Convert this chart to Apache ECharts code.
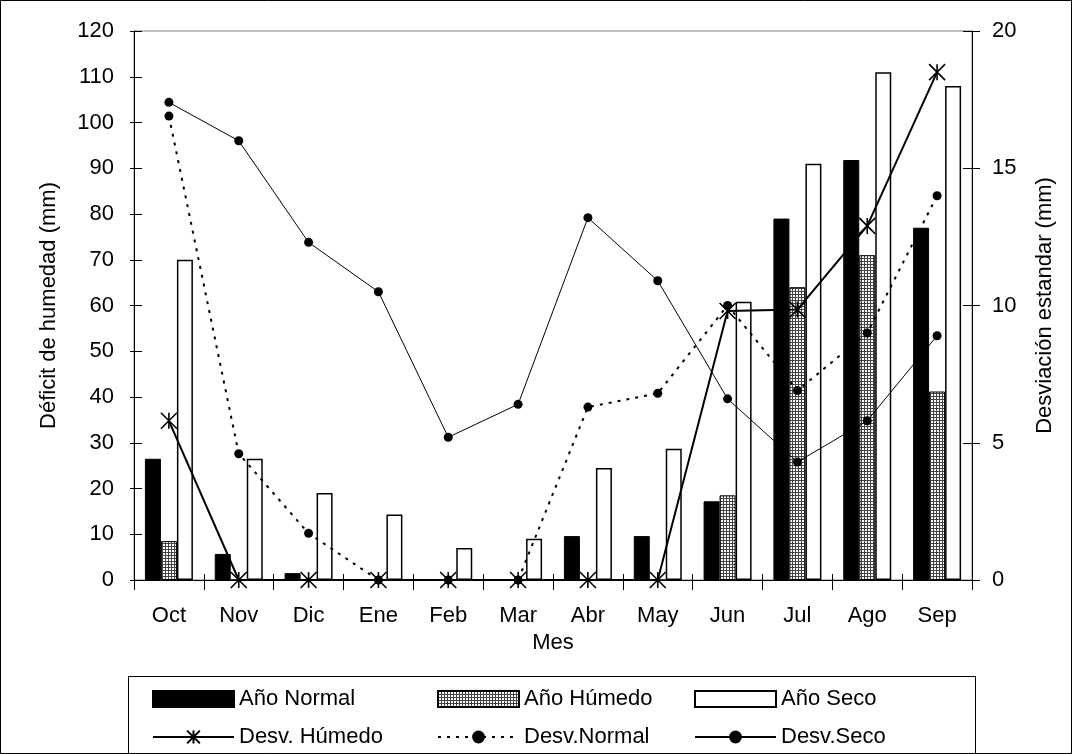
<!DOCTYPE html>
<html><head><meta charset="utf-8">
<script src="https://cdn.jsdelivr.net/npm/echarts@6/dist/echarts.min.js"></script>
<style>html,body{margin:0;padding:0;background:#fff}#c{width:1072px;height:754px}</style>
</head><body><div id="c"></div>
<script>
var months = ['Oct','Nov','Dic','Ene','Feb','Mar','Abr','May','Jun','Jul','Ago','Sep'];
var anoNormal = [26.5, 5.7, 1.5, 0, 0, 0, 9.6, 9.6, 17.2, 79, 91.8, 77];
var anoHumedo = [8.5, 0, 0, 0, 0, 0, 0, 0, 18.5, 64, 71, 41.2];
var anoSeco = [70, 26.5, 19, 14.3, 7, 9, 24.5, 28.7, 60.8, 91, 111, 108];
var desvHumedo = [5.8, 0, 0, 0, 0, 0, 0, 0, 9.8, 9.85, 12.9, 18.5];
var desvNormal = [16.9, 4.6, 1.7, 0, 0, 0, 6.3, 6.8, 10.0, 6.9, 9.0, 14.0];
var desvSeco = [17.4, 16.0, 12.3, 10.5, 5.2, 6.4, 13.2, 10.9, 6.6, 4.3, 5.8, 8.9];

var cv = document.createElement('canvas');
cv.width = 3; cv.height = 3;
var cx = cv.getContext('2d');
cx.fillStyle = '#fff'; cx.fillRect(0,0,3,3);
cx.fillStyle = '#444'; cx.fillRect(0,0,3,1); cx.fillRect(0,0,1,3);
var hatch = {image: cv, repeat: 'repeat'};

var FONT = 'Liberation Sans, Arial, sans-serif';
var FS = 22;
var chart = echarts.init(document.getElementById('c'), null, {renderer: 'canvas'});
var star = 'path://M0,0L20,20M20,0L0,20M10,0L10,20';
function lg(name, left, top, icon) {
  var o = {data: [name], left: left, top: top, itemWidth: 81, itemHeight: 16, itemGap: 0, padding: 0,
    textStyle: {fontFamily: FONT, fontSize: FS, color: '#000'}, selectedMode: false};
  if (icon) o.icon = icon;
  return o;
}
chart.setOption({
  animation: false,
  textStyle: {fontFamily: FONT},
  grid: {left: 134, right: 100, top: 31, bottom: 174, show: true, borderColor: '#808080', borderWidth: 1},
  xAxis: [{
    type: 'category', data: months, boundaryGap: true,
    axisLine: {lineStyle: {color: '#000', width: 1}},
    axisTick: {show: true, length: 10, lineStyle: {color: '#000'}},
    axisLabel: {color: '#000', fontSize: FS, margin: 25, fontFamily: FONT},
    name: 'Mes', nameLocation: 'middle', nameGap: 51,
    nameTextStyle: {color: '#000', fontSize: FS, fontFamily: FONT}
  }, {
    type: 'category', data: months, position: 'bottom', boundaryGap: true,
    axisLine: {show: false}, axisTick: {show: true, inside: true, length: 6, lineStyle: {color: '#000'}},
    axisLabel: {show: false}
  }],
  yAxis: [{
    type: 'value', min: 0, max: 120, interval: 10, position: 'left',
    axisLine: {show: true, lineStyle: {color: '#000'}},
    axisTick: {show: true, length: 4, lineStyle: {color: '#000'}},
    splitLine: {show: false},
    axisLabel: {color: '#000', fontSize: FS, margin: 20, fontFamily: FONT},
    name: 'Déficit de humedad (mm)', nameLocation: 'middle', nameGap: 74, nameRotate: 90,
    nameTextStyle: {color: '#000', fontSize: FS, fontFamily: FONT}
  }, {
    type: 'value', min: 0, max: 20, interval: 5, position: 'right',
    axisLine: {show: true, lineStyle: {color: '#000'}},
    axisTick: {show: true, length: 8, lineStyle: {color: '#000'}},
    splitLine: {show: false},
    axisLabel: {color: '#000', fontSize: FS, margin: 20, fontFamily: FONT},
    name: 'Desviación estandar (mm)', nameLocation: 'middle', nameGap: 62, nameRotate: 90,
    nameTextStyle: {color: '#000', fontSize: FS, fontFamily: FONT}
  }, {
    type: 'value', min: 0, max: 120, interval: 10, position: 'left',
    axisLine: {show: false}, axisTick: {show: true, inside: true, length: 8, lineStyle: {color: '#000'}},
    axisLabel: {show: false}, splitLine: {show: false}
  }, {
    type: 'value', min: 0, max: 20, interval: 5, position: 'right',
    axisLine: {show: false}, axisTick: {show: true, inside: true, length: 9, lineStyle: {color: '#000'}},
    axisLabel: {show: false}, splitLine: {show: false}
  }],
  legend: [
    lg('Año Normal', 152, 688, 'rect'), lg('Año Húmedo', 437, 688, 'rect'), lg('Año Seco', 694, 688, 'rect'),
    lg('Desv. Húmedo', 152, 726), lg('Desv.Normal', 437, 726), lg('Desv.Seco', 694, 726)
  ],
  graphic: [
    {type: 'rect', shape: {x: 0.5, y: 0.5, width: 1071, height: 753}, style: {fill: 'none', stroke: '#000', lineWidth: 1}, silent: true},
    {type: 'rect', shape: {x: 128.5, y: 676.5, width: 847, height: 90}, style: {fill: 'none', stroke: '#000', lineWidth: 1}, silent: true}
  ],
  series: [
    {name: 'Año Normal', type: 'bar', data: anoNormal, barWidth: 16, barGap: '0%',
      itemStyle: {color: '#000', borderColor: '#000', borderWidth: 1}},
    {name: 'Año Húmedo', type: 'bar', data: anoHumedo, barWidth: 16, barGap: '0%',
      itemStyle: {color: hatch, borderColor: '#000', borderWidth: 1}},
    {name: 'Año Seco', type: 'bar', data: anoSeco, barWidth: 16, barGap: '0%',
      itemStyle: {color: '#fff', borderColor: '#000', borderWidth: 1.5}},
    {name: 'Desv. Húmedo', type: 'line', yAxisIndex: 1, data: desvHumedo, symbol: star, symbolSize: 16,
      lineStyle: {color: '#000', width: 2}, itemStyle: {color: '#000', borderColor: '#000', borderWidth: 1.6}, z: 5},
    {name: 'Desv.Normal', type: 'line', yAxisIndex: 1, data: desvNormal, symbol: 'circle', symbolSize: 9,
      lineStyle: {color: '#000', width: 2, type: [3, 6]}, itemStyle: {color: '#000', borderWidth: 0}, z: 5},
    {name: 'Desv.Seco', type: 'line', yAxisIndex: 1, data: desvSeco, symbol: 'circle', symbolSize: 9,
      lineStyle: {color: '#000', width: 1}, itemStyle: {color: '#000', borderWidth: 0}, z: 5}
  ]
});
</script></body></html>
